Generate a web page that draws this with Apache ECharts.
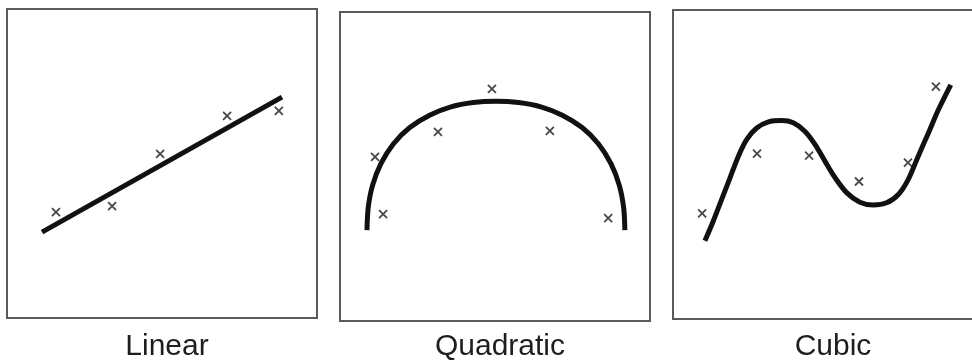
<!DOCTYPE html>
<html>
<head>
<meta charset="utf-8">
<script src="https://cdn.jsdelivr.net/npm/echarts@6/dist/echarts.min.js"></script>
<style>
    html, body { margin: 0; padding: 0; background: #fff; }
    #main { width: 972px; height: 362px; }
</style>
</head>
<body>
<div id="main"></div>
<script>
// 每个面板都用 0-100 的坐标
var panelNames = ['Linear', 'Quadratic', 'Cubic'];

// Linear
var linearFitX = [11.3, 88.7];
var linearFitY = [27.8, 71.5];
var linearPointX = [15.8, 33.9, 49.4, 71.0, 87.7];
var linearPointY = [34.3, 36.2, 53.1, 65.4, 67.0];

// Quadratic
var quadFitX = [8.7, 9.1, 10.5, 13.2, 17.2, 22.5, 28.9, 35.8, 43.0, 50.3,
                57.6, 64.8, 71.7, 78.1, 83.4, 87.4, 90.1, 91.5, 91.9];
var quadFitY = [29.4, 36.7, 43.9, 50.9, 57.3, 62.6, 66.6, 69.3, 70.7, 71.1,
                70.7, 69.3, 66.6, 62.6, 57.3, 50.9, 43.9, 36.7, 29.4];
var quadPointX = [11.3, 13.9, 31.6, 49.0, 67.7, 86.5];
var quadPointY = [53.1, 34.6, 61.2, 75.1, 61.5, 33.3];

// Cubic
var cubicFitX = [10.3, 13.0, 15.7, 18.4, 21.1, 23.8, 27.0, 30.8, 35.1, 38.8, 42.6, 45.8,
                 49.0, 52.3, 56.0, 60.3, 64.6, 68.9, 72.7, 75.9, 79.1, 82.4, 85.6, 89.6];
var cubicFitY = [25.3, 31.7, 38.7, 45.7, 52.7, 58.1, 61.8, 63.8, 64.2, 63.5, 60.7, 56.5,
                 51.1, 45.7, 40.9, 37.8, 36.9, 37.6, 40.3, 45.2, 52.7, 60.2, 67.7, 75.8];
var cubicPointX = [9.4, 27.1, 43.9, 60.0, 75.8, 84.8];
var cubicPointY = [34.2, 53.5, 52.9, 44.5, 50.6, 75.2];

function zip(xs, ys) {
    var arr = [];
    for (var i = 0; i < xs.length; i++) {
        arr.push([xs[i], ys[i]]);
    }
    return arr;
}

function makeGrid(left, top) {
    return {
        left: left,
        top: top,
        width: 310,
        height: 309,
        outerBoundsMode: 'none',
        containLabel: false,
        show: true,
        backgroundColor: 'transparent',
        borderColor: '#5a5a5a',
        borderWidth: 2
    };
}

function makeAxis(idx) {
    return {
        type: 'value',
        gridIndex: idx,
        min: 0,
        max: 100,
        show: false
    };
}

function fitSeries(idx, xs, ys) {
    return {
        type: 'line',
        xAxisIndex: idx,
        yAxisIndex: idx,
        data: zip(xs, ys),
        smooth: xs.length > 2 ? 0.3 : false,
        showSymbol: false,
        silent: true,
        lineStyle: { color: '#111', width: 5, cap: 'butt', join: 'round' }
    };
}

function pointSeries(idx, xs, ys) {
    return {
        type: 'scatter',
        xAxisIndex: idx,
        yAxisIndex: idx,
        data: zip(xs, ys),
        symbol: 'path://M0,0L10,10M10,0L0,10',
        symbolSize: 8,
        silent: true,
        itemStyle: { color: 'transparent', borderColor: '#1a1a1a', borderWidth: 1.8 }
    };
}

function makeTitle(text, x) {
    return {
        text: text,
        left: x,
        top: 327,
        textAlign: 'center',
        textStyle: {
            fontFamily: 'Liberation Sans',
            fontSize: 30,
            fontWeight: 'normal',
            color: '#1e1e1e'
        }
    };
}

var chart = echarts.init(document.getElementById('main'));
var option = {
    backgroundColor: '#fff',
    animation: false,
    title: [
        makeTitle(panelNames[0], 162),
        makeTitle(panelNames[1], 495),
        makeTitle(panelNames[2], 828)
    ],
    grid: [makeGrid(7, 9), makeGrid(340, 12), makeGrid(673, 10)],
    xAxis: [makeAxis(0), makeAxis(1), makeAxis(2)],
    yAxis: [makeAxis(0), makeAxis(1), makeAxis(2)],
    series: [
        fitSeries(0, linearFitX, linearFitY),
        pointSeries(0, linearPointX, linearPointY),
        fitSeries(1, quadFitX, quadFitY),
        pointSeries(1, quadPointX, quadPointY),
        fitSeries(2, cubicFitX, cubicFitY),
        pointSeries(2, cubicPointX, cubicPointY)
    ]
};
chart.setOption(option);
</script>
</body>
</html>
